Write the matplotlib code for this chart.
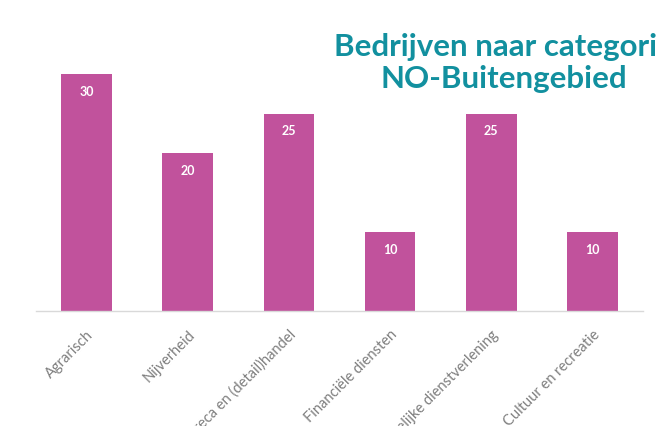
import matplotlib
matplotlib.use('Agg')
import matplotlib.pyplot as plt

categories = ['Agrarisch', 'Nijverheid', 'Horeca en (detail)handel',
              'Financiële diensten', 'Zakelijke dienstverlening', 'Cultuur en recreatie']
values = [30, 20, 25, 10, 25, 10]

bar_color = '#c1529c'
title_color = '#12909f'

fig = plt.figure(figsize=(6.57, 4.26), dpi=100)
ax = fig.add_axes([36 / 657, 115 / 426, 607 / 657, 237 / 426])

x = range(len(categories))
bars = ax.bar(x, values, width=0.5, color=bar_color, zorder=2)
ax.set_xlim(-0.5, len(categories) - 0.5)
ax.set_ylim(0, 30)

for b, v in zip(bars, values):
    ax.text(b.get_x() + b.get_width() / 2, v - 1.5, str(v), ha='center', va='top',
            color='white', fontsize=9, fontweight='bold', family='Lato')

for s in ['top', 'right', 'left']:
    ax.spines[s].set_visible(False)
ax.spines['bottom'].set_color('#d9d9d9')
ax.spines['bottom'].set_linewidth(1.0)
ax.set_yticks([])
ax.set_xticks(list(x))
ax.set_xticklabels(categories, rotation=45, ha='right', rotation_mode='anchor',
                   fontsize=10.5, color='#7f7f7f', family='Lato')
ax.tick_params(axis='x', length=0, pad=12)

fig.text(504 / 657, 1 - 63 / 426, 'Bedrijven naar categorie\nNO-Buitengebied',
         ha='center', va='center', fontsize=22.5, fontweight='bold', color=title_color,
         family='Lato', linespacing=1.15)

fig.savefig('out.png', dpi=100)
